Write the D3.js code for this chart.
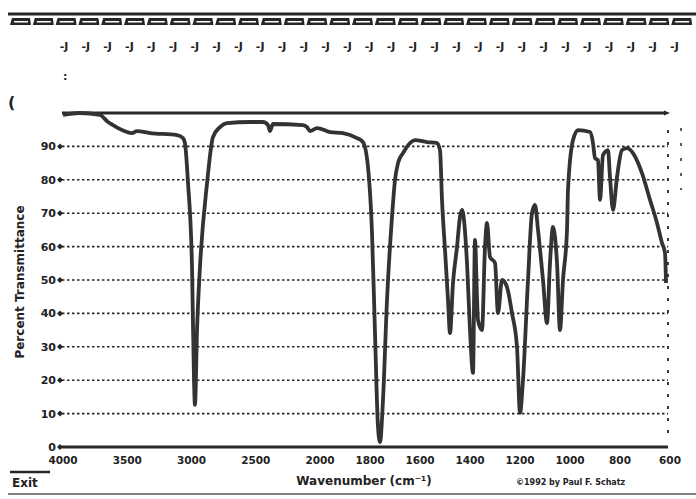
<!DOCTYPE html>
<html><head><meta charset="utf-8">
<script src="https://cdn.jsdelivr.net/npm/d3@7/dist/d3.min.js"></script>
<style>
body{margin:0;background:#fff;}
text{font-family:"DejaVu Sans",sans-serif;font-weight:bold;fill:#222;}
</style></head>
<body><svg id="c" width="696" height="499"></svg>
<script>
// Wavenumber (cm-1) and percent transmittance
const wavenumbers = [4000,3868,3712,3650,3611,3541,3463,3424,3323,3113,3066,3051,3027,2996,2988,2973,2957,2934,2879,2833,2778,2724,2545,2444,2405,2389,2366,2132,2101,2078,2023,1960,1908,1852,1828,1808,1792,1780,1768,1760,1748,1732,1712,1700,1688,1668,1640,1620,1572,1532,1520,1512,1500,1488,1480,1468,1452,1440,1432,1412,1400,1388,1380,1372,1368,1352,1340,1332,1320,1300,1288,1272,1252,1232,1212,1200,1188,1168,1152,1140,1128,1108,1092,1080,1068,1052,1040,1028,1012,1008,988,968,920,908,900,888,880,868,848,840,828,812,792,772,748,712,680,652,632,620,616];
const transmittance = [99.4,100,99.4,97.3,96.4,94.9,94.0,94.6,94.0,93.4,92.5,91.0,79.0,53.9,35.9,12.6,35.0,53.9,79.0,92.8,95.8,97.0,97.3,97.3,96.4,94.6,96.7,96.4,95.8,94.6,95.5,94.3,94.0,92.5,91.3,83.8,64.1,34.1,6.0,1.5,14.1,44.0,68.9,79.9,85.0,88.0,91.0,91.9,91.3,91.0,88.9,74.0,59.0,44.0,34.1,49.1,59.9,68.9,71.0,55.1,35.0,22.2,62.0,44.9,38.0,35.0,59.9,67.1,56.9,55.1,40.1,50.0,47.9,40.1,29.9,10.2,20.1,50.0,70.1,72.5,65.0,50.0,37.1,55.1,65.9,55.1,35.0,50.0,65.0,77.0,91.9,94.9,94.3,91.0,86.5,85.9,74.0,87.4,88.9,80.8,71.0,80.8,88.9,89.5,88.0,82.0,74.0,67.1,61.1,58.1,49.1];
const xTicks = [4000,3500,3000,2500,2000,1800,1600,1400,1200,1000,800,600];
const xTickLabels = ["4000","3500","3000","2500","2000","1800","1600","1400","1200","1000","800","600"];
const yTicks = [0,10,20,30,40,50,60,70,80,90];

const svg = d3.select("#c");
const x = d3.scaleLinear().domain([4000,2000,600]).range([63,320,670]);
const y = d3.scaleLinear().domain([0,100]).range([447,113]);
const ink = "#262626";

// top toolbar decoration
svg.append("line").attr("x1",8).attr("x2",696).attr("y1",14).attr("y2",14).attr("stroke",ink).attr("stroke-width",3);
const tabs = d3.range(30);
svg.append("g").selectAll("path").data(tabs).join("path")
  .attr("d",(d)=>{const x0=10+d*22.8;return `M${x0},25 L${x0+2},18 L${x0+20},18 L${x0+21},25 Z`;})
  .attr("fill",ink);
svg.append("g").selectAll("rect").data(tabs).join("rect")
  .attr("x",(d)=>14+d*22.8).attr("y",21).attr("width",14).attr("height",1.5).attr("fill","#fff");
const icons = d3.range(29);
svg.append("g").selectAll("text").data(icons).join("text")
  .attr("x",(d)=>64+d*21.8).attr("y",50).attr("font-size",11).attr("text-anchor","middle").text("-J");
svg.append("text").attr("x",63).attr("y",80).attr("font-size",11).text(":");
svg.append("text").attr("x",8).attr("y",108).attr("font-size",16).attr("font-weight","normal").text("(");

// grid
const grid = svg.append("g");
grid.selectAll("line").data(yTicks.filter(d=>d>0)).join("line")
  .attr("x1",62).attr("x2",668).attr("y1",d=>y(d)).attr("y2",d=>y(d))
  .attr("stroke",ink).attr("stroke-width",1.6).attr("stroke-dasharray","2.5,2.5");
// right side dotted marks
svg.append("line").attr("x1",668).attr("x2",668).attr("y1",130).attr("y2",440)
  .attr("stroke",ink).attr("stroke-width",1.8).attr("stroke-dasharray","3,9");
svg.append("line").attr("x1",681).attr("x2",681).attr("y1",128).attr("y2",190)
  .attr("stroke",ink).attr("stroke-width",1.5).attr("stroke-dasharray","3,12");

// y tick labels and diamonds
const yt = svg.append("g");
yt.selectAll("text").data(yTicks).join("text")
  .attr("x",56).attr("y",d=>y(d)+4).attr("text-anchor","end").attr("font-size",11).text(d=>d===0?"0":d);
yt.selectAll("path").data(yTicks).join("path")
  .attr("d",d=>`M57,${y(d)} L60,${y(d)-3} L63,${y(d)} L60,${y(d)+3} Z`).attr("fill",ink);

// 100% line and axis line
svg.append("line").attr("x1",62).attr("x2",666).attr("y1",y(100)).attr("y2",y(100)).attr("stroke",ink).attr("stroke-width",3);
svg.append("path").attr("d",`M664,${y(100)-2.5} L670,${y(100)} L664,${y(100)+2.5} Z`).attr("fill",ink);
svg.append("line").attr("x1",62).attr("x2",668).attr("y1",y(0)).attr("y2",y(0)).attr("stroke",ink).attr("stroke-width",3);

// x tick labels
svg.append("g").selectAll("text").data(xTicks).join("text")
  .attr("x",d=>x(d)).attr("y",464).attr("text-anchor","middle").attr("font-size",10.5)
  .text((d,i)=>xTickLabels[i]);

// spectrum
const pts = wavenumbers.map((w,i)=>[w,transmittance[i]]);
svg.append("path").datum(pts)
  .attr("d",d3.line().x(d=>x(d[0])).y(d=>y(d[1])).curve(d3.curveMonotoneX))
  .attr("fill","none").attr("stroke","#333").attr("stroke-width",3.8).attr("stroke-linejoin","round");

// labels
svg.append("text").attr("transform","translate(24,282) rotate(-90)").attr("text-anchor","middle")
  .attr("font-size",12).text("Percent Transmittance");
svg.append("text").attr("x",364).attr("y",485).attr("text-anchor","middle").attr("font-size",12).text("Wavenumber (cm⁻¹)");
svg.append("line").attr("x1",10).attr("x2",50).attr("y1",472).attr("y2",472).attr("stroke",ink).attr("stroke-width",2.5);
svg.append("text").attr("x",12).attr("y",487).attr("font-size",12).attr("font-weight","normal").text("Exit");
svg.append("text").attr("x",516).attr("y",485).attr("font-size",8).text("©1992 by Paul F. Schatz");
svg.append("line").attr("x1",8).attr("x2",696).attr("y1",494).attr("y2",494).attr("stroke","#555").attr("stroke-width",1.5);
</script></body></html>
